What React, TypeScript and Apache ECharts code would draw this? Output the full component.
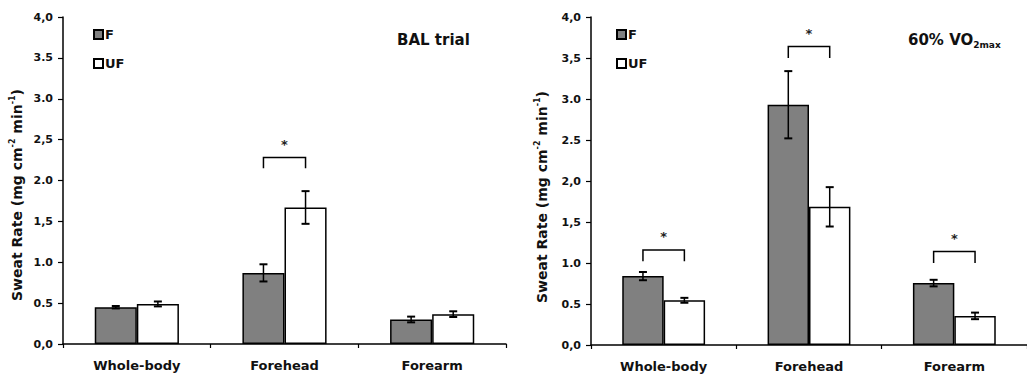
import React, { useEffect, useRef } from "react";
import * as echarts from "echarts";

// Sites measured
const sites = ["Whole-body", "Forehead", "Forearm"];

// BAL trial: sweat rate (mg cm-2 min-1), mean and error
const balF = [0.45, 0.87, 0.30];
const balFErr = [0.015, 0.105, 0.035];
const balUF = [0.49, 1.67, 0.365];
const balUFErr = [0.03, 0.2, 0.035];

// 60% VO2max trial
const vo2F = [0.84, 2.93, 0.755];
const vo2FErr = [0.05, 0.41, 0.04];
const vo2UF = [0.545, 1.685, 0.355];
const vo2UFErr = [0.03, 0.24, 0.04];

// Significance brackets: [site index, bracket top, bracket foot]
const balBrackets = [[1, 2.28, 2.15]];
const vo2Brackets = [
  [0, 1.16, 1.02],
  [1, 3.64, 3.5],
  [2, 1.14, 1.0],
];

// Y tick labels as printed
const balTicks = ["0,0", "0.5", "1.0", "1,5", "2.0", "2,5", "3.0", "3.5", "4,0"];
const vo2Ticks = ["0,0", "0.5", "1.0", "1,5", "2,0", "2.5", "3.0", "3,5", "4,0"];

const FONT = "DejaVu Sans";
const BAR_FRAC = 0.285;
const GREY = "#808080";

function errorRender(sign: number) {
  return (params: any, api: any) => {
    const cat = api.value(0);
    const v = api.value(1);
    const e = api.value(2);
    const band = api.size([1, 0])[0];
    const dx = (sign * band * BAR_FRAC) / 2;
    const top = api.coord([cat, v + e]);
    const bot = api.coord([cat, v - e]);
    const x = top[0] + dx;
    const cap = 4;
    const st = { stroke: "#000", lineWidth: 1.5 };
    return {
      type: "group",
      children: [
        { type: "line", shape: { x1: x, y1: top[1], x2: x, y2: bot[1] }, style: st },
        { type: "line", shape: { x1: x - cap, y1: top[1], x2: x + cap, y2: top[1] }, style: { stroke: "#000", lineWidth: 2 } },
        { type: "line", shape: { x1: x - cap, y1: bot[1], x2: x + cap, y2: bot[1] }, style: { stroke: "#000", lineWidth: 2 } },
      ],
    };
  };
}

function bracketRender(params: any, api: any) {
  const cat = api.value(0);
  const t = api.coord([cat, api.value(1)]);
  const b = api.coord([cat, api.value(2)]);
  const band = api.size([1, 0])[0];
  const half = (band * BAR_FRAC) / 2;
  const x1 = t[0] - half;
  const x2 = t[0] + half;
  return {
    type: "group",
    children: [
      {
        type: "polyline",
        shape: { points: [[x1, b[1]], [x1, t[1]], [x2, t[1]], [x2, b[1]]] },
        style: { stroke: "#000", lineWidth: 1.5, fill: "none" },
      },
      {
        type: "text",
        x: (x1 + x2) / 2,
        y: t[1] - 13,
        style: {
          text: "*",
          fontFamily: FONT,
          fontWeight: "bold",
          fontSize: 13,
          fill: "#222",
          align: "center",
          verticalAlign: "middle",
        },
      },
    ],
  };
}

function panelSeries(
  idx: number,
  f: number[],
  fErr: number[],
  uf: number[],
  ufErr: number[],
  brackets: number[][]
) {
  const axes = { xAxisIndex: idx, yAxisIndex: idx };
  return [
    {
      name: "F",
      type: "bar",
      ...axes,
      data: f,
      barWidth: `${BAR_FRAC * 100}%`,
      barGap: "0%",
      itemStyle: { color: GREY, borderColor: "#000", borderWidth: 1.5 },
    },
    {
      name: "UF",
      type: "bar",
      ...axes,
      data: uf,
      barWidth: `${BAR_FRAC * 100}%`,
      barGap: "0%",
      itemStyle: { color: "#fff", borderColor: "#000", borderWidth: 1.5 },
    },
    {
      type: "custom",
      ...axes,
      z: 5,
      renderItem: errorRender(-1),
      encode: { x: 0, y: 1 },
      data: f.map((v, i) => [i, v, fErr[i]]),
    },
    {
      type: "custom",
      ...axes,
      z: 5,
      renderItem: errorRender(1),
      encode: { x: 0, y: 1 },
      data: uf.map((v, i) => [i, v, ufErr[i]]),
    },
    {
      type: "custom",
      ...axes,
      z: 5,
      renderItem: bracketRender,
      encode: { x: 0, y: 1 },
      data: brackets,
    },
  ];
}

function xAxis(idx: number) {
  return {
    type: "category",
    gridIndex: idx,
    data: sites,
    boundaryGap: true,
    axisLine: { lineStyle: { color: "#000", width: 1.5 } },
    axisTick: { show: true, length: 4, lineStyle: { color: "#000", width: 1.2 } },
    axisLabel: {
      color: "#111",
      fontFamily: FONT,
      fontWeight: "bold",
      fontSize: 13,
      margin: 15,
    },
  };
}

function yAxis(idx: number, ticks: string[]) {
  return {
    type: "value",
    gridIndex: idx,
    min: 0,
    max: 4,
    interval: 0.5,
    splitLine: { show: false },
    axisLine: { show: true, lineStyle: { color: "#000", width: 1.5 } },
    axisTick: { show: true, length: 5, lineStyle: { color: "#000", width: 1.2 } },
    axisLabel: {
      color: "#111",
      fontFamily: FONT,
      fontWeight: "bold",
      fontSize: 11,
      margin: 10,
      formatter: (v: number) => ticks[Math.round(v / 0.5)],
    },
  };
}

function legend(left: number) {
  return {
    left,
    top: 23,
    orient: "vertical",
    data: ["F", "UF"],
    icon: "rect",
    itemWidth: 9,
    itemHeight: 9,
    itemGap: 16,
    selectedMode: false,
    textStyle: { fontFamily: FONT, fontWeight: "bold", fontSize: 13, color: "#111", padding: [0, 0, 0, -3] },
  };
}

const yLabelRich = {
  n: { fontFamily: FONT, fontWeight: "bold", fontSize: 14, lineHeight: 17, fill: "#111" },
  s: { fontFamily: FONT, fontWeight: "bold", fontSize: 8, lineHeight: 9, verticalAlign: "top", fill: "#111" },
};

function yLabel(x: number, y: number) {
  return {
    type: "text",
    x,
    y,
    rotation: Math.PI / 2,
    style: {
      text: "{n|Sweat Rate (mg cm}{s|-2}{n| min}{s|-1}{n|)}",
      rich: yLabelRich,
      align: "center",
      verticalAlign: "middle",
    },
  };
}

export default function App() {
  const ref = useRef<HTMLDivElement>(null);

  useEffect(() => {
    document.body.style.margin = "0";
    const chart = echarts.init(ref.current!, undefined, { renderer: "svg" });
    chart.setOption({
      animation: false,
      backgroundColor: "#fff",
      textStyle: { fontFamily: FONT },
      grid: [
        { left: 63, top: 17, width: 443, height: 327 },
        { left: 591, top: 17, width: 446, height: 328 },
      ],
      xAxis: [xAxis(0), xAxis(1)],
      yAxis: [yAxis(0, balTicks), yAxis(1, vo2Ticks)],
      legend: [legend(88), legend(611)],
      series: [
        ...panelSeries(0, balF, balFErr, balUF, balUFErr, balBrackets),
        ...panelSeries(1, vo2F, vo2FErr, vo2UF, vo2UFErr, vo2Brackets),
      ],
      graphic: [
        yLabel(17, 195),
        yLabel(542, 197),
        {
          type: "text",
          x: 397,
          y: 40,
          style: {
            text: "BAL trial",
            fontFamily: FONT,
            fontWeight: "bold",
            fontSize: 15,
            fill: "#111",
            verticalAlign: "middle",
          },
        },
        {
          type: "text",
          x: 908,
          y: 40,
          style: {
            text: "{b|60% VO}{s|2max}",
            verticalAlign: "middle",
            rich: {
              b: { fontFamily: FONT, fontWeight: "bold", fontSize: 15, lineHeight: 18, fill: "#111" },
              s: { fontFamily: FONT, fontWeight: "bold", fontSize: 9, lineHeight: 10, verticalAlign: "bottom", fill: "#111" },
            },
          },
        },
      ],
    });
    return () => chart.dispose();
  }, []);

  return <div ref={ref} style={{ width: 1027, height: 377 }} />;
}
